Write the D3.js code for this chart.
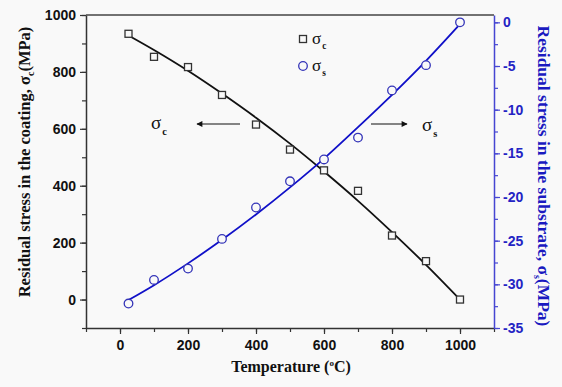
<!DOCTYPE html>
<html>
<head>
<meta charset="utf-8">
<script src="https://cdn.jsdelivr.net/npm/d3@7"></script>
<style>
  html, body { margin: 0; padding: 0; background: #f9f9f9; }
  svg { display: block; }
</style>
</head>
<body>
<script>
// temperatures of the measurements
const temps = [25, 100, 200, 300, 400, 500, 600, 700, 800, 900, 1000]
// residual stress in coating (MPa), squares
const sigmaC = [934, 853, 817, 719, 615, 527, 454, 382, 225, 135, 0]
// residual stress in substrate (MPa), circles
const sigmaS = [-32.2, -29.5, -28.2, -24.8, -21.2, -18.2, -15.7, -13.2, -7.8, -4.9, 0]
// fitted curves
const fitC = [928, 877, 804, 724, 639, 548, 450, 347, 237, 122, 0]
const fitS = [-31.8, -30.1, -27.6, -24.9, -22.0, -18.9, -15.6, -12.0, -8.3, -4.4, -0.2]

const xTicks = [0, 200, 400, 600, 800, 1000]
const yLeftTicks = [0, 200, 400, 600, 800, 1000]
const yRightTicks = [0, -5, -10, -15, -20, -25, -30, -35]

const W = 562, H = 387
const mLeft = 86, mRight = 494, mTop = 15, mBottom = 328
const blue = '#1010c8'
const axisBlue = '#4646d2'
const plain = d => String(d)

const svg = d3.select('body').append('svg')
    .attr('width', W)
    .attr('height', H)
    .style('background', '#f9f9f9')

const x = d3.scaleLinear().domain([-100, 1100]).range([mLeft, mRight])
const yL = d3.scaleLinear().domain([-100, 1000]).range([mBottom, mTop])
const yR = d3.scaleLinear().domain([-35, 0.84]).range([mBottom, mTop])

// minor ticks first
svg.append('g')
    .attr('transform', `translate(0,${mBottom})`)
    .call(d3.axisBottom(x).tickValues(d3.range(-100, 1101, 100)).tickSize(4).tickFormat(''))
    .call(g => g.select('.domain').remove())
    .call(g => g.selectAll('line').attr('stroke', '#333').attr('stroke-width', 1.2))

svg.append('g')
    .attr('transform', `translate(${mLeft},0)`)
    .call(d3.axisLeft(yL).tickValues(d3.range(-100, 1001, 100)).tickSize(4).tickFormat(''))
    .call(g => g.select('.domain').remove())
    .call(g => g.selectAll('line').attr('stroke', '#333').attr('stroke-width', 1.2))

svg.append('g')
    .attr('transform', `translate(${mRight},0)`)
    .call(d3.axisRight(yR).tickValues(d3.range(-35, 0.1, 2.5)).tickSize(4).tickFormat(''))
    .call(g => g.select('.domain').remove())
    .call(g => g.selectAll('line').attr('stroke', axisBlue).attr('stroke-width', 1.2))

// major axes
const xAxis = svg.append('g')
    .attr('transform', `translate(0,${mBottom})`)
    .call(d3.axisBottom(x).tickValues(xTicks).tickFormat(plain).tickSize(6).tickPadding(6).tickSizeOuter(0))
xAxis.select('.domain').attr('stroke', '#333').attr('stroke-width', 1.5)

const yAxisL = svg.append('g')
    .attr('transform', `translate(${mLeft},0)`)
    .call(d3.axisLeft(yL).tickValues(yLeftTicks).tickFormat(plain).tickSize(6).tickPadding(4).tickSizeOuter(0))
yAxisL.select('.domain').attr('stroke', '#333').attr('stroke-width', 1.5)

const yAxisR = svg.append('g')
    .attr('transform', `translate(${mRight},0)`)
    .call(d3.axisRight(yR).tickValues(yRightTicks).tickFormat(plain).tickSize(6).tickPadding(3).tickSizeOuter(0))
yAxisR.select('.domain').attr('stroke', axisBlue).attr('stroke-width', 1.5)
yAxisR.selectAll('line').attr('stroke', axisBlue)

;[xAxis, yAxisL].forEach(g => {
    g.selectAll('line').attr('stroke', '#333').attr('stroke-width', 1.2)
    g.selectAll('text').attr('fill', '#111')
})
yAxisR.selectAll('line').attr('stroke-width', 1.2)
yAxisR.selectAll('text').attr('fill', '#2424c4')
svg.selectAll('.tick text')
    .style('font-family', '"Liberation Sans", Arial, sans-serif')
    .style('font-weight', 'bold')
    .style('font-size', '14px')

// top frame
svg.append('line')
    .attr('x1', mLeft).attr('x2', mRight)
    .attr('y1', mTop).attr('y2', mTop)
    .attr('stroke', '#444').attr('stroke-width', 1.5)

// fitted curves
const lineC = d3.line().x((d, i) => x(temps[i])).y(d => yL(d)).curve(d3.curveMonotoneX)
const lineS = d3.line().x((d, i) => x(temps[i])).y(d => yR(d)).curve(d3.curveMonotoneX)

svg.append('path').datum(fitC)
    .attr('d', lineC).attr('fill', 'none')
    .attr('stroke', '#111').attr('stroke-width', 1.8)

svg.append('path').datum(fitS)
    .attr('d', lineS).attr('fill', 'none')
    .attr('stroke', blue).attr('stroke-width', 1.8)

// markers
const sq = 7
svg.selectAll('rect.sc').data(sigmaC).enter().append('rect')
    .attr('class', 'sc')
    .attr('x', (d, i) => x(temps[i]) - sq / 2)
    .attr('y', d => yL(d) - sq / 2)
    .attr('width', sq).attr('height', sq)
    .attr('fill', '#f9f9f9').attr('stroke', '#333').attr('stroke-width', 1.3)

svg.selectAll('circle.ss').data(sigmaS).enter().append('circle')
    .attr('class', 'ss')
    .attr('cx', (d, i) => x(temps[i]))
    .attr('cy', d => yR(d))
    .attr('r', 4.3)
    .attr('fill', '#f9f9f9').attr('stroke', '#3434b8').attr('stroke-width', 1.3)

// legend
const serif = '"Liberation Serif", "Times New Roman", serif'
svg.append('rect')
    .attr('x', 303 - sq / 2).attr('y', 39 - sq / 2)
    .attr('width', sq).attr('height', sq)
    .attr('fill', 'none').attr('stroke', '#333').attr('stroke-width', 1.3)
svg.append('circle')
    .attr('cx', 303).attr('cy', 66).attr('r', 4.3)
    .attr('fill', 'none').attr('stroke', '#3434b8').attr('stroke-width', 1.3)

function sigma(g, px, py, sub, size) {
    const t = g.append('text')
        .attr('x', px).attr('y', py)
        .style('font-family', serif)
        .style('font-size', size + 'px')
        .attr('fill', '#111')
    t.append('tspan').text('σ')
    t.append('tspan').text(sub)
        .attr('dx', 1)
        .attr('dy', size * 0.3)
        .style('font-size', (size * 0.55) + 'px')
        .style('font-weight', 'bold')
}
sigma(svg, 312, 44, 'c', 17)
sigma(svg, 312, 71, 's', 17)

// annotations
sigma(svg, 151, 129, 'c', 19)
sigma(svg, 422, 131, 's', 19)

const defs = svg.append('defs')
defs.append('marker')
    .attr('id', 'arrow')
    .attr('viewBox', '0 0 10 10')
    .attr('refX', 9).attr('refY', 5)
    .attr('markerWidth', 8).attr('markerHeight', 6)
    .attr('markerUnits', 'userSpaceOnUse')
    .attr('orient', 'auto')
    .append('path').attr('d', 'M0,0 L10,5 L0,10 z').attr('fill', '#111')

svg.append('line')
    .attr('x1', 240).attr('y1', 124).attr('x2', 197).attr('y2', 124)
    .attr('stroke', '#111').attr('stroke-width', 1.2)
    .attr('marker-end', 'url(#arrow)')
svg.append('line')
    .attr('x1', 371).attr('y1', 124).attr('x2', 407).attr('y2', 124)
    .attr('stroke', '#111').attr('stroke-width', 1.2)
    .attr('marker-end', 'url(#arrow)')

// axis titles
const titleL = svg.append('text')
    .attr('transform', 'translate(30,162) rotate(-90)')
    .attr('text-anchor', 'middle')
    .style('font-family', serif).style('font-weight', 'bold').style('font-size', '16.5px')
    .attr('fill', '#111')
titleL.append('tspan').text('Residual stress in the coating, σ')
titleL.append('tspan').text('c').attr('dy', 4).style('font-size', '10px')
titleL.append('tspan').text('(MPa)').attr('dy', -4)

const titleR = svg.append('text')
    .attr('transform', 'translate(538,176) rotate(90)')
    .attr('text-anchor', 'middle')
    .style('font-family', serif).style('font-weight', 'bold').style('font-size', '17.5px')
    .attr('fill', '#1a1ac0')
titleR.append('tspan').text('Residual stress in the substrate, σ')
titleR.append('tspan').text('s').attr('dy', 4).style('font-size', '10px')
titleR.append('tspan').text('(MPa)').attr('dy', -4)

const titleX = svg.append('text')
    .attr('x', 291).attr('y', 372)
    .attr('text-anchor', 'middle')
    .style('font-family', serif).style('font-weight', 'bold').style('font-size', '16px')
    .attr('fill', '#111')
titleX.append('tspan').text('Temperature (')
titleX.append('tspan').text('o').attr('dy', -6).style('font-size', '9px')
titleX.append('tspan').text('C)').attr('dy', 6)
</script>
</body>
</html>
